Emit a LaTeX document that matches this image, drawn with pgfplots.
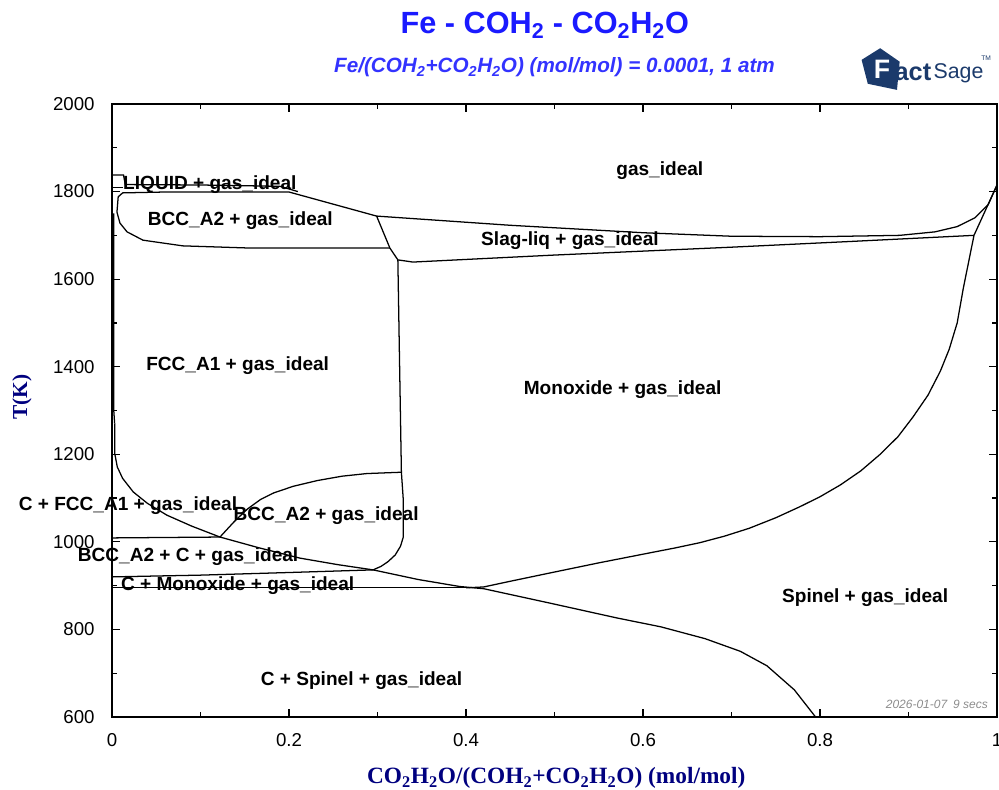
\documentclass[border=0pt]{standalone}
\usepackage{pgfplots}
\pgfplotsset{compat=1.18}
\usepackage{fontspec}
\setmainfont{Liberation Sans}
\newfontfamily\timesfont{Liberation Serif}
\definecolor{ttl}{HTML}{1A1AFF}
\definecolor{sub}{HTML}{3333FF}
\definecolor{lab}{HTML}{00007F}
\definecolor{logo}{HTML}{1B3A6B}
\definecolor{dategray}{HTML}{8C8C8C}
\begin{document}
\begin{tikzpicture}[x=1pt,y=1pt]
\useasboundingbox (-84,-54) rectangle (665.25,537.75);
\begin{axis}[
  at={(0,0)}, anchor=south west, scale only axis,
  width=663.75pt, height=459.75pt,
  xmin=0, xmax=1, ymin=600, ymax=2000,
  xtick={0,0.2,0.4,0.6,0.8,1},
  minor xtick={0.1,0.3,0.5,0.7,0.9},
  ytick={600,800,1000,1200,1400,1600,1800,2000},
  minor ytick={700,900,1100,1300,1500,1700,1900},
  scaled ticks=false,
  /pgf/number format/1000 sep={},
  /pgf/number format/assume math mode=true,
  tick align=inside,
  major tick length=6pt, minor tick length=3.4pt,
  tick style={black, line width=0.9pt},
  axis line style={line width=1.1pt},
  ticklabel style={font=\fontsize{14}{16}\selectfont},
  xticklabel style={yshift=-9pt},
  yticklabel style={xshift=-9.5pt},
  xlabel={\timesfont\bfseries CO\textsubscript{2}H\textsubscript{2}O/(COH\textsubscript{2}+CO\textsubscript{2}H\textsubscript{2}O) (mol/mol)},
  ylabel={\timesfont\bfseries T(K)},
  xlabel style={at={(rel axis cs:0.502,-0.0995)}, anchor=center, color=lab, font=\fontsize{17.5}{20}\selectfont},
  ylabel style={at={(rel axis cs:-0.1017,0.522)}, anchor=center, color=lab, font=\fontsize{16}{18}\selectfont},
  clip=false,
  cycle list={{black,solid,line width=0.95pt,no marks}},
  every axis plot post/.append style={black, solid, line width=0.95pt, no marks},
]
% LIQUID region
\addplot coordinates {(0,1838) (0.013,1838) (0.015,1816) (0.1,1815) (0.19,1812) (0.21,1800)};
\addplot coordinates {(0,1810) (0.012,1810)};
% BCC_A2 + gas loop
\addplot coordinates {(0.0056,1753) (0.007,1788) (0.012,1797) (0.06,1799) (0.14,1799) (0.2,1799) (0.299,1744) (0.314,1671) (0.323,1644)};
\addplot coordinates {(0.0056,1753) (0.009,1728) (0.017,1708) (0.035,1689) (0.08,1676) (0.156,1671) (0.314,1671)};
% Slag-liq region
\addplot coordinates {(0.299,1744) (0.45,1723) (0.6,1706) (0.7,1698) (0.8,1697) (0.89,1700) (0.93,1708) (0.955,1720) (0.975,1740) (0.99,1770) (1.0,1815)};
\addplot coordinates {(0.323,1644) (0.34,1639) (0.5,1655) (0.7,1673) (0.834,1686) (0.974,1700)};
\addplot coordinates {(0.974,1700) (1.0,1815)};
% Monoxide / Spinel
\addplot coordinates {(0.974,1700) (0.968,1640) (0.962,1580) (0.955,1500) (0.946,1440) (0.936,1390) (0.922,1335) (0.905,1285) (0.888,1240) (0.868,1200) (0.846,1162) (0.823,1130) (0.80,1103) (0.777,1080) (0.75,1055) (0.72,1031) (0.692,1013) (0.664,998) (0.636,986) (0.608,975) (0.55,952) (0.495,929) (0.45,910) (0.42,897) (0.40,895)};
% C + Monoxide
\addplot coordinates {(0,895) (0.40,895)};
\addplot coordinates {(0,920) (0.1,924) (0.2,930) (0.295,936)};
% BCC_A2 + C top
\addplot coordinates {(0,1009) (0.122,1011)};
% FCC / C+FCC and graphite line
\addplot coordinates {(0.003,1270) (0.003,1203) (0.006,1171) (0.012,1145) (0.024,1114) (0.04,1088) (0.062,1061) (0.09,1036) (0.122,1011) (0.165,987) (0.212,963) (0.255,948) (0.295,936) (0.346,914) (0.393,898) (0.42,893) (0.495,860) (0.571,826) (0.62,806) (0.67,779) (0.71,750) (0.74,717) (0.771,662) (0.795,600)};
% lower BCC_A2 region
\addplot coordinates {(0.122,1011) (0.138,1046) (0.153,1075) (0.168,1097) (0.183,1112) (0.205,1127) (0.232,1140) (0.26,1150) (0.288,1156) (0.327,1159)};
\addplot coordinates {(0.323,1644) (0.325,1400) (0.327,1159) (0.329,1100) (0.329,1010) (0.326,990) (0.32,970) (0.312,955) (0.304,944) (0.295,936)};
% boundary along the left axis
\addplot coordinates {(0.002,1750) (0.002,1300) (0.003,1270)};

% phase labels
\begin{scope}[every node/.style={font=\fontsize{14.3}{16}\selectfont\bfseries, inner sep=0pt}]
\node at (axis cs:0.619,1849) {gas\_ideal};
\node[anchor=west] at (axis cs:0.0124,1815) {LIQUID + gas\_ideal};
\node at (axis cs:0.145,1734) {BCC\_A2 + gas\_ideal};
\node at (axis cs:0.5175,1689) {Slag-liq + gas\_ideal};
\node at (axis cs:0.142,1402) {FCC\_A1 + gas\_ideal};
\node at (axis cs:0.577,1347) {Monoxide + gas\_ideal};
\node at (axis cs:0.018,1082) {C + FCC\_A1 + gas\_ideal};
\node at (axis cs:0.242,1059) {BCC\_A2 + gas\_ideal};
\node at (axis cs:0.086,966) {BCC\_A2 + C + gas\_ideal};
\node at (axis cs:0.142,899) {C + Monoxide + gas\_ideal};
\node at (axis cs:0.851,872) {Spinel + gas\_ideal};
\node at (axis cs:0.282,682) {C + Spinel + gas\_ideal};
\end{scope}
\node[anchor=east, inner sep=0pt, text=dategray, font=\fontsize{9}{10}\selectfont\itshape] at (rel axis cs:0.99,0.021) {2026-01-07\enspace 9 secs};

% titles
\node[text=ttl, font=\fontsize{23}{26}\selectfont\bfseries] at (rel axis cs:0.489,1.129) {Fe - COH\textsubscript{2} - CO\textsubscript{2}H\textsubscript{2}O};
\node[text=sub, font=\fontsize{15.5}{18}\selectfont\bfseries\itshape] at (rel axis cs:0.5,1.060) {Fe/(COH\textsubscript{2}+CO\textsubscript{2}H\textsubscript{2}O) (mol/mol) = 0.0001, 1 atm};

% FactSage logo
\fill[logo] (rel axis cs:0.847,1.072) -- (rel axis cs:0.868,1.091) -- (rel axis cs:0.890,1.069) -- (rel axis cs:0.887,1.023) -- (rel axis cs:0.854,1.033) -- cycle;
\node[text=white, font=\fontsize{20}{20}\selectfont\bfseries, inner sep=0pt] at (rel axis cs:0.870,1.056) {F};
\node[anchor=west, inner sep=0pt, text=logo, font=\fontsize{19}{20}\selectfont\bfseries] at (rel axis cs:0.884,1.052) {act};
\node[anchor=west, inner sep=0pt, text=logo, font=\fontsize{16}{18}\selectfont] at (rel axis cs:0.928,1.050) {Sage};
\node[anchor=west, inner sep=0pt, text=logo, font=\fontsize{5}{6}\selectfont] at (rel axis cs:0.982,1.075) {TM};
\end{axis}
\end{tikzpicture}
\end{document}
